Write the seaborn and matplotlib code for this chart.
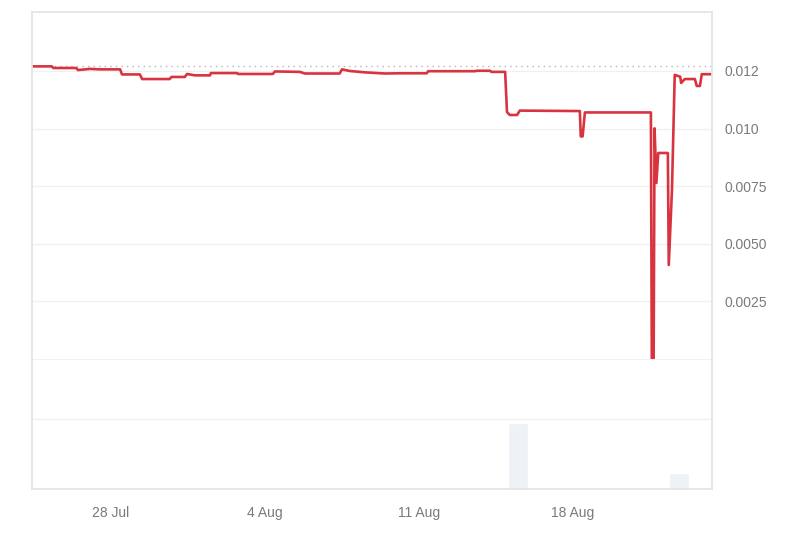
import pandas as pd
import numpy as np
import seaborn as sns
import matplotlib.pyplot as plt
import matplotlib.dates as mdates

# price series
price_time = [
    "2024-07-24 10:00", "2024-07-25 07:30", "2024-07-25 09:00", "2024-07-26 10:00",
    "2024-07-26 12:00", "2024-07-27 01:00", "2024-07-27 12:00", "2024-07-28 10:00",
    "2024-07-28 12:00", "2024-07-29 07:30", "2024-07-29 10:00", "2024-07-30 16:00",
    "2024-07-30 18:00", "2024-07-31 08:30", "2024-07-31 11:00", "2024-07-31 19:30",
    "2024-08-01 12:00", "2024-08-01 13:00", "2024-08-02 17:30", "2024-08-02 18:30",
    "2024-08-04 08:30", "2024-08-04 11:00", "2024-08-05 14:00", "2024-08-05 19:30",
    "2024-08-07 09:30", "2024-08-07 12:00", "2024-08-07 20:30", "2024-08-08 13:00",
    "2024-08-09 11:00", "2024-08-10 03:00", "2024-08-11 08:30", "2024-08-11 10:00",
    "2024-08-13 13:00", "2024-08-13 15:00", "2024-08-14 05:30", "2024-08-14 07:00",
    "2024-08-14 22:00", "2024-08-15 00:00", "2024-08-15 03:00", "2024-08-15 11:00",
    "2024-08-15 14:00", "2024-08-18 07:30", "2024-08-18 08:30", "2024-08-18 10:30",
    "2024-08-18 13:00", "2024-08-21 13:00", "2024-08-21 14:00", "2024-08-21 16:00",
    "2024-08-21 17:00", "2024-08-21 19:00", "2024-08-21 21:00", "2024-08-22 07:30",
    "2024-08-22 08:30", "2024-08-22 12:00", "2024-08-22 15:00", "2024-08-22 21:00",
    "2024-08-22 22:00", "2024-08-23 02:00", "2024-08-23 13:00", "2024-08-23 15:00",
    "2024-08-23 18:30", "2024-08-23 20:30", "2024-08-24 07:30",
]
price = [
    0.01270, 0.01270, 0.01263, 0.01263,
    0.01254, 0.01259, 0.01257, 0.01257,
    0.01235, 0.01235, 0.01215, 0.01215,
    0.01224, 0.01224, 0.01237, 0.01231,
    0.01231, 0.01241, 0.01241, 0.01237,
    0.01237, 0.01248, 0.01246, 0.01239,
    0.01239, 0.01257, 0.01250, 0.01244,
    0.01239, 0.01240, 0.01240, 0.01249,
    0.01249, 0.01251, 0.01251, 0.01246,
    0.01246, 0.01072, 0.01059, 0.01059,
    0.01078, 0.01076, 0.00966, 0.00966,
    0.01070, 0.01070, 0.00002, 0.00002,
    0.01001, 0.00764, 0.00894, 0.00894,
    0.00408, 0.00734, 0.01233, 0.01225,
    0.01198, 0.01215, 0.01215, 0.01185,
    0.01185, 0.01236, 0.01236,
]

# volume bars (arbitrary units)
vol_time = ["2024-08-15 12:00", "2024-08-22 20:00"]
volume = [66, 16]

y_ticks = [0.0025, 0.0050, 0.0075, 0.0100, 0.0125]
y_labels = ["0.0025", "0.0050", "0.0075", "0.010", "0.012"]
x_ticks = ["2024-07-28", "2024-08-04", "2024-08-11", "2024-08-18"]
x_labels = ["28 Jul", "4 Aug", "11 Aug", "18 Aug"]

df = pd.DataFrame({"time": pd.to_datetime(price_time), "price": price})
vdf = pd.DataFrame({"time": pd.to_datetime(vol_time), "volume": volume})

sns.set_theme(style="white")
plt.rcParams["font.family"] = ["Liberation Sans", "DejaVu Sans"]

grid_c = "#f0f0f0"
frame_c = "#e4e4e4"
text_c = "#7a7a7a"
red = "#d8343f"

fig = plt.figure(figsize=(8, 5.33), dpi=100)
ax = fig.add_axes([0.04, 0.3265, 0.85, 0.651])
axv = fig.add_axes([0.04, 0.0826, 0.85, 0.2439], sharex=ax)

xmin = pd.Timestamp("2024-07-24 09:50")
xmax = pd.Timestamp("2024-08-24 07:40")

sns.lineplot(data=df, x="time", y="price", ax=ax, color=red, linewidth=1.9)
ax.axhline(price[0], color="#b5b5b5", linestyle=(0, (1, 3)), linewidth=1, zorder=0)
ax.set_ylim(0, 0.01506)
ax.set_xlim(xmin, xmax)
ax.set_yticks(y_ticks)
ax.set_yticklabels(y_labels)
ax.yaxis.tick_right()
ax.tick_params(axis="y", length=0, pad=9, labelsize=10, labelcolor=text_c)
ax.tick_params(axis="x", length=0, labelbottom=False)
ax.grid(axis="y", color=grid_c, linewidth=1)
ax.set_xlabel("")
ax.set_ylabel("")
for s in ["top", "left", "right"]:
    ax.spines[s].set_color(frame_c)
ax.spines["bottom"].set_visible(False)

axv.bar(vdf["time"], vdf["volume"], width=0.9, color="#eef1f5", zorder=2)
axv.set_ylim(0, 130)
axv.set_yticks([70])
axv.yaxis.set_ticklabels([])
axv.tick_params(axis="y", length=0)
axv.grid(axis="y", color=grid_c, linewidth=1)
axv.axhline(130, color=grid_c, linewidth=1.5)
axv.set_xticks(pd.to_datetime(x_ticks))
axv.set_xticklabels(x_labels)
axv.tick_params(axis="x", length=0, pad=12, labelsize=10, labelcolor=text_c)
axv.set_xlim(xmin, xmax)
for s in ["left", "right", "bottom"]:
    axv.spines[s].set_color(frame_c)
axv.spines["top"].set_visible(False)

fig.savefig("out.png", dpi=100, facecolor="white")
